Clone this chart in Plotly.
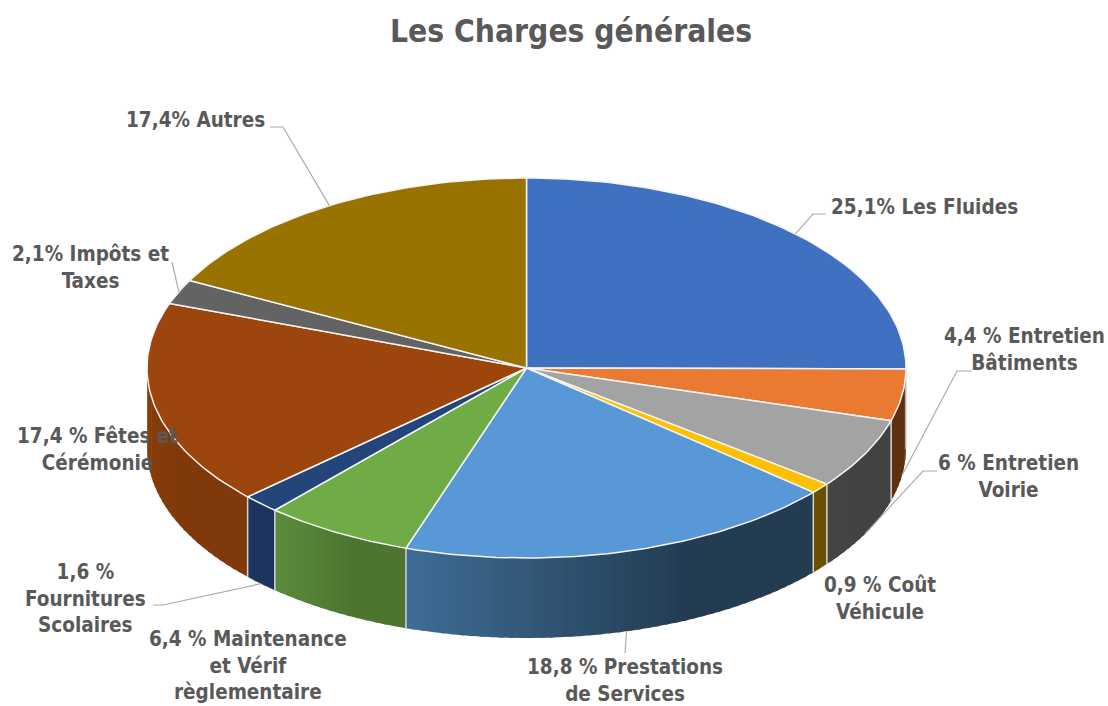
import numpy as np
import plotly.graph_objects as go

TITLE = "Les Charges générales"
categories = ["Les Fluides", "Entretien Bâtiments", "Entretien Voirie", "Coût Véhicule",
              "Prestations de Services", "Maintenance et Vérif règlementaire",
              "Fournitures Scolaires", "Fêtes et Cérémonie", "Impôts et Taxes", "Autres"]
shares = [25.1, 4.4, 6.0, 0.9, 18.8, 6.4, 1.6, 17.4, 2.1, 17.4]
labels = ["25,1% Les Fluides", "4,4 % Entretien<br>Bâtiments", "6 % Entretien<br>Voirie",
          "0,9 % Coût<br>Véhicule", "18,8 % Prestations<br>de Services",
          "6,4 % Maintenance<br>et Vérif<br>règlementaire", "1,6 %<br>Fournitures<br>Scolaires",
          "17,4 % Fêtes et<br>Cérémonie", "2,1% Impôts et<br>Taxes", "17,4% Autres"]
top_colors = ["#4070c0", "#ea7a32", "#a3a3a3", "#ffc000", "#5998d6",
              "#6fac46", "#234579", "#9c450c", "#636363", "#997300"]
# wall colours: at the right-hand end of a slice's wall, and at its left-hand end
side_right = ["#2c4f87", "#5f2f10", "#424242", "#6a5000", "#233c52",
              "#4d7530", "#1c345e", "#7f390a", "#555555", "#6b5000"]
side_left = ["#2c4f87", "#5f2f10", "#454545", "#6a5000", "#3f6e98",
             "#5b8d3c", "#1c345e", "#8a3f0b", "#555555", "#6b5000"]
# label centre in page pixels, per slice
label_x = [924, 1024, 1008, 880, 625, 248, 85, 97, 90, 195]
label_y = [207, 349, 476, 598, 680, 665, 598, 449, 267, 120]
# leader: where it leaves the text (None = no leader), elbow, and whether it lands on the lower rim
leader_start = [(826, 214), (972, 371), (937, 471), None, (625, 653), None, (153, 605), None, (172, 262), (270, 127)]
leader_elbow = [(813, 214), (957, 371), (923, 471), None, None, None, (163, 605), None, None, (283, 127)]
leader_low = [False, True, True, False, True, False, True, False, False, False]

CX, CY, RX, RY, DEPTH = 526.5, 368, 379.5, 190, 80
FONT = "DejaVu Sans Condensed, DejaVu Sans"
INK = "#595959"

def rim(theta, drop=0.0):
    return CX + RX * np.sin(theta), CY - RY * np.cos(theta) + drop

def mix(a, b, t):
    ca = [int(a[i:i + 2], 16) for i in (1, 3, 5)]
    cb = [int(b[i:i + 2], 16) for i in (1, 3, 5)]
    return "rgb(%d,%d,%d)" % tuple(round(p + (q - p) * t) for p, q in zip(ca, cb))

vals = np.array(shares) / sum(shares)
edges = np.concatenate([[0], np.cumsum(vals)]) * 2 * np.pi
fig = go.Figure()

def poly(x, y, fill, line=None, width=0):
    fig.add_trace(go.Scatter(x=x, y=y, mode="lines", fill="toself", fillcolor=fill,
                             line=dict(color=line or fill, width=width), hoverinfo="skip", showlegend=False))

# side wall, front half only
for i in range(len(vals)):
    a, b = max(edges[i], np.pi / 2), min(edges[i + 1], 3 * np.pi / 2)
    if b <= a:
        continue
    n = max(1, int((b - a) / np.radians(1.5)))
    steps = np.linspace(a, b, n + 1)
    for k in range(n):
        t = np.linspace(steps[k], min(steps[k + 1] + np.radians(0.6), b), 6)
        x1, y1 = rim(t)
        x2, y2 = rim(t[::-1], DEPTH)
        frac = max(0.0, (k / max(n, 1) - 0.35) / 0.65)
        poly(np.r_[x1, x2], np.r_[y1, y2], mix(side_right[i], side_left[i], frac))

# separators between wall segments
for i in range(len(vals)):
    th = edges[i + 1]
    if np.pi / 2 < th < 3 * np.pi / 2:
        x1, y1 = rim(th)
        fig.add_trace(go.Scatter(x=[x1, x1], y=[y1, y1 + DEPTH], mode="lines",
                                 line=dict(color="#d4d4d4", width=1.5), hoverinfo="skip", showlegend=False))

# top face
for i in range(len(vals)):
    t = np.linspace(edges[i], edges[i + 1], max(3, int((edges[i + 1] - edges[i]) / np.radians(1)) + 2))
    x, y = rim(t)
    poly(np.r_[CX, x, CX], np.r_[CY, y, CY], top_colors[i], "#f4f4f4", 1.5)

# leader lines land on the slice's mid-angle
mids = (edges[:-1] + edges[1:]) / 2
for i in range(len(vals)):
    if leader_start[i] is None:
        continue
    ex, ey = rim(mids[i], DEPTH if leader_low[i] else 0)
    xs = [leader_start[i][0]] + ([leader_elbow[i][0]] if leader_elbow[i] else []) + [ex]
    ys = [leader_start[i][1]] + ([leader_elbow[i][1]] if leader_elbow[i] else []) + [ey]
    fig.add_trace(go.Scatter(x=xs, y=ys, mode="lines", line=dict(color="#ababab", width=1.2),
                             hoverinfo="skip", showlegend=False))

ann = [dict(x=571, y=31, text="<b>%s</b>" % TITLE, showarrow=False, xanchor="center", yanchor="middle",
            font=dict(family=FONT, size=31.5, color=INK))]
for lab, lx, ly in zip(labels, label_x, label_y):
    ann.append(dict(x=lx, y=ly, text="<b>%s</b>" % lab, showarrow=False, xanchor="center", yanchor="middle",
                    align="center", borderpad=0, font=dict(family=FONT, size=20.5, color=INK)))

fig.update_layout(width=1108, height=706, margin=dict(l=0, r=0, t=0, b=0), autosize=False,
                  paper_bgcolor="white", plot_bgcolor="white", annotations=ann, showlegend=False,
                  xaxis=dict(range=[0, 1108], visible=False, fixedrange=True),
                  yaxis=dict(range=[706, 0], visible=False, fixedrange=True))
fig.write_html("out.html", config=dict(displayModeBar=False),
               post_script="document.documentElement.style.overflow='hidden';document.body.style.margin='0';")
